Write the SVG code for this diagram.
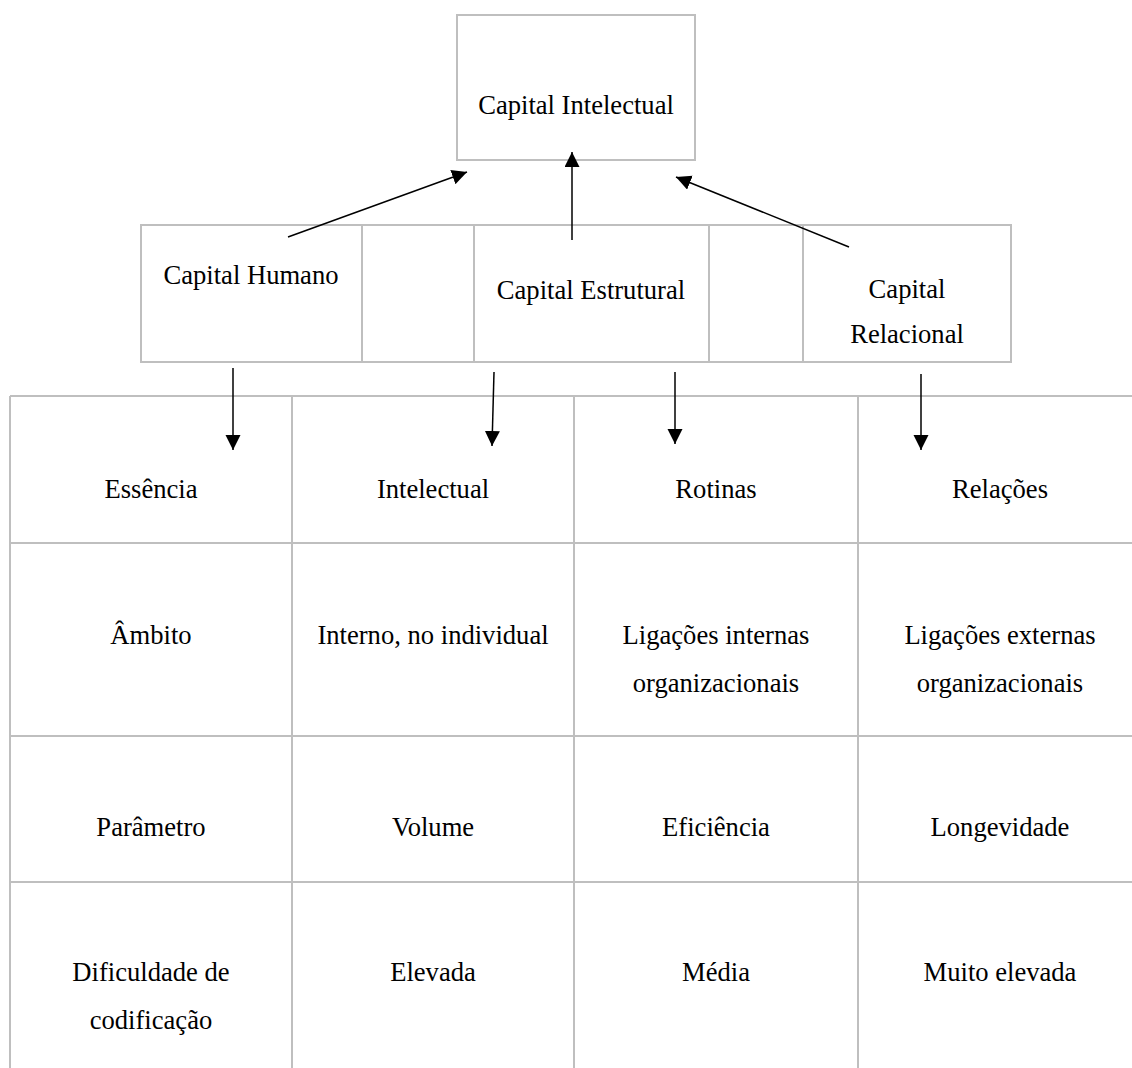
<svg xmlns="http://www.w3.org/2000/svg" width="1132" height="1068" viewBox="0 0 1132 1068">
<style>
  .box { fill: #ffffff; stroke: #bfbfbf; stroke-width: 2; }
  .grid { stroke: #bfbfbf; stroke-width: 2; fill: none; }
  .t { font-family: "Liberation Serif", "Times New Roman", serif; font-size: 26.6px; fill: #000000; text-anchor: middle; }
  .conn { stroke: #000000; stroke-width: 1.5; fill: none; marker-end: url(#arrow); }
</style>
<defs>
  <marker id="arrow" markerUnits="userSpaceOnUse" markerWidth="16" markerHeight="16" viewBox="0 0 16 16" refX="15" refY="7.5" orient="auto">
    <path d="M0,0 L15,7.5 L0,15 z" fill="#000000"/>
  </marker>
</defs>
<rect width="1132" height="1068" fill="#ffffff"/>

<g id="capital-intelectual">
  <rect class="box" x="457" y="15" width="238" height="145"/>
  <text class="t" x="576" y="114">Capital Intelectual</text>
</g>

<g id="middle-row">
  <rect class="box" x="141" y="225" width="870" height="137"/>
  <line class="grid" x1="362" y1="225" x2="362" y2="362"/>
  <line class="grid" x1="474" y1="225" x2="474" y2="362"/>
  <line class="grid" x1="709" y1="225" x2="709" y2="362"/>
  <line class="grid" x1="803" y1="225" x2="803" y2="362"/>
</g>
<g id="capital-humano">
  <text class="t" x="251" y="284">Capital Humano</text>
</g>
<g id="capital-estrutural">
  <text class="t" x="591" y="299">Capital Estrutural</text>
</g>
<g id="capital-relacional">
  <text class="t" x="907" y="298">Capital</text>
  <text class="t" x="907" y="343">Relacional</text>
</g>

<g id="table">
  <line class="grid" x1="10" y1="396" x2="1132" y2="396"/>
  <line class="grid" x1="10" y1="543" x2="1132" y2="543"/>
  <line class="grid" x1="10" y1="736" x2="1132" y2="736"/>
  <line class="grid" x1="10" y1="882" x2="1132" y2="882"/>
  <line class="grid" x1="10" y1="396" x2="10" y2="1068"/>
  <line class="grid" x1="292" y1="396" x2="292" y2="1068"/>
  <line class="grid" x1="574" y1="396" x2="574" y2="1068"/>
  <line class="grid" x1="858" y1="396" x2="858" y2="1068"/>
</g>

<g id="row-essencia">
  <text class="t" x="151" y="498">Essência</text>
  <text class="t" x="433" y="498">Intelectual</text>
  <text class="t" x="716" y="498">Rotinas</text>
  <text class="t" x="1000" y="498">Relações</text>
</g>
<g id="row-ambito">
  <text class="t" x="151" y="644">Âmbito</text>
  <text class="t" x="433" y="644">Interno, no individual</text>
  <text class="t" x="716" y="644">Ligações internas</text>
  <text class="t" x="716" y="692">organizacionais</text>
  <text class="t" x="1000" y="644">Ligações externas</text>
  <text class="t" x="1000" y="692">organizacionais</text>
</g>
<g id="row-parametro">
  <text class="t" x="151" y="836">Parâmetro</text>
  <text class="t" x="433" y="836">Volume</text>
  <text class="t" x="716" y="836">Eficiência</text>
  <text class="t" x="1000" y="836">Longevidade</text>
</g>
<g id="row-dificuldade">
  <text class="t" x="151" y="981">Dificuldade de</text>
  <text class="t" x="151" y="1029">codificação</text>
  <text class="t" x="433" y="981">Elevada</text>
  <text class="t" x="716" y="981">Média</text>
  <text class="t" x="1000" y="981">Muito elevada</text>
</g>

<g id="connectors">
  <line class="conn" x1="288" y1="237" x2="467" y2="172"/>
  <line class="conn" x1="572" y1="240" x2="572" y2="152"/>
  <line class="conn" x1="849" y1="247" x2="676" y2="177"/>
  <line class="conn" x1="233" y1="368" x2="233" y2="450"/>
  <line class="conn" x1="494" y1="372" x2="492" y2="446"/>
  <line class="conn" x1="675" y1="372" x2="675" y2="444"/>
  <line class="conn" x1="921" y1="374" x2="921" y2="450"/>
</g>
</svg>
